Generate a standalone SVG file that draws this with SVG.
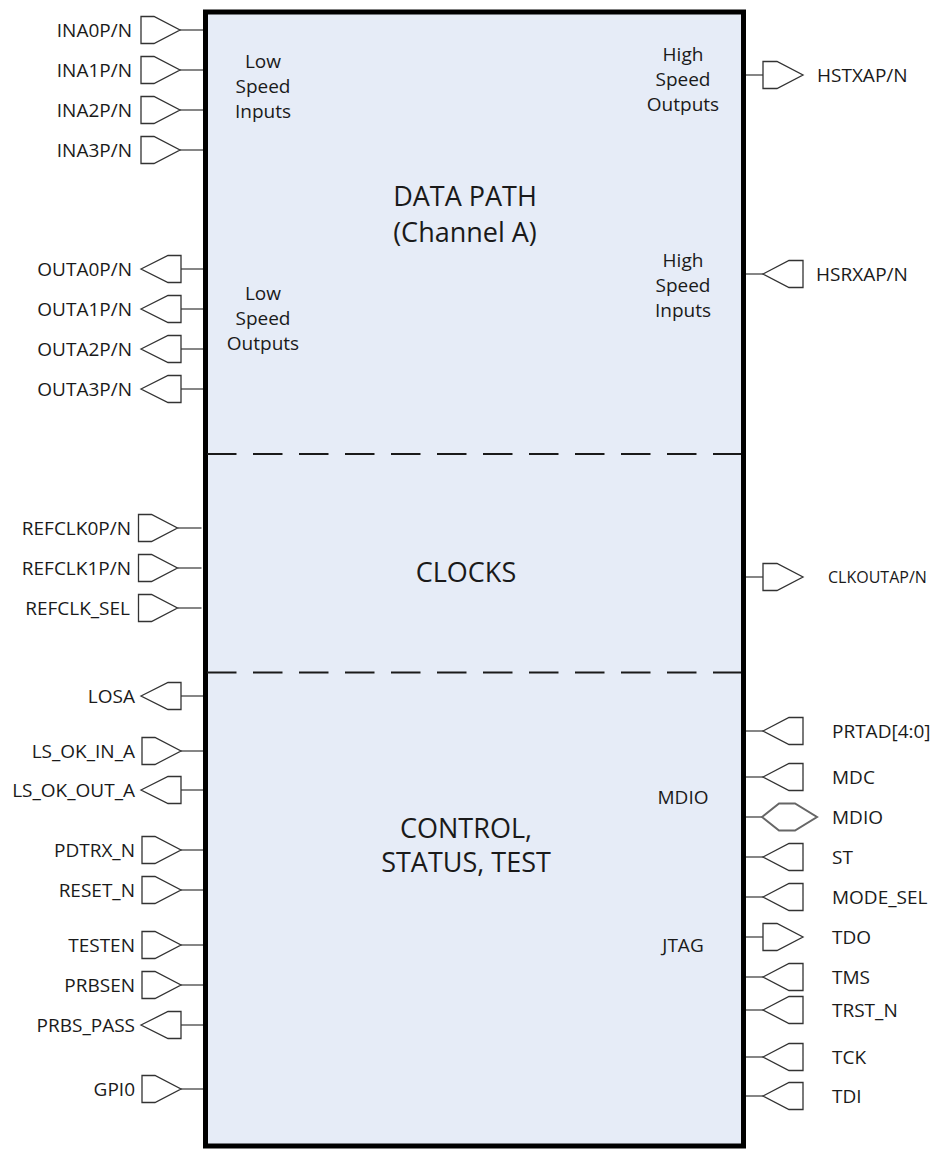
<svg xmlns="http://www.w3.org/2000/svg" xmlns:xlink="http://www.w3.org/1999/xlink" width="933" height="1150" viewBox="0 0 933 1150">
<style>
.pin{fill:#ffffff;stroke:#333333;stroke-width:1.3;stroke-linejoin:miter}
.bid{fill:#ffffff;stroke:#666666;stroke-width:2}
.wire{stroke:#444444;stroke-width:1.3}
.lbl{font-family:"Open Sans","DejaVu Sans",sans-serif;font-size:19px;fill:#1a1a1a}
.l{text-anchor:end}
.mid{text-anchor:middle}
.big{font-family:"Open Sans","DejaVu Sans",sans-serif;font-size:27px;fill:#1a1a1a;text-anchor:middle}
.dash{stroke:#1a1a1a;stroke-width:2;stroke-dasharray:29.5 16.5;fill:none}
</style>
<defs>
<g id="inL"><line class="wire" x1="180" y1="0" x2="204" y2="0"/><polygon class="pin" points="141,-13.5 154,-13.5 180,0 154,13.5 141,13.5"/></g>
<g id="outL"><line class="wire" x1="181" y1="0" x2="204" y2="0"/><polygon class="pin" points="141,0 168,-13.5 181,-13.5 181,13.5 168,13.5"/></g>
<g id="inR"><line class="wire" x1="744" y1="0" x2="763" y2="0"/><polygon class="pin" points="763,0 789,-13.5 803,-13.5 803,13.5 789,13.5"/></g>
<g id="outR"><line class="wire" x1="744" y1="0" x2="763" y2="0"/><polygon class="pin" points="763,-13.5 777,-13.5 803,0 777,13.5 763,13.5"/></g>
<g id="bidR"><line class="wire" x1="744" y1="0" x2="762" y2="0"/><polygon class="bid" points="762,0 779,-13.5 795,-13.5 817,0 795,13.5 779,13.5"/></g>
</defs>

<g id="connectors">
<use xlink:href="#inL" href="#inL" y="30"/>
<use xlink:href="#inL" href="#inL" y="70"/>
<use xlink:href="#inL" href="#inL" y="110"/>
<use xlink:href="#inL" href="#inL" y="150"/>
<use xlink:href="#outL" href="#outL" y="269"/>
<use xlink:href="#outL" href="#outL" y="309"/>
<use xlink:href="#outL" href="#outL" y="349"/>
<use xlink:href="#outL" href="#outL" y="389"/>
<use xlink:href="#inL" href="#inL" x="-2.5" y="528"/>
<use xlink:href="#inL" href="#inL" x="-2.5" y="568"/>
<use xlink:href="#inL" href="#inL" x="-2.5" y="608"/>
<use xlink:href="#outL" href="#outL" y="696"/>
<use xlink:href="#inL" href="#inL" x="1" y="751"/>
<use xlink:href="#outL" href="#outL" y="790"/>
<use xlink:href="#inL" href="#inL" x="1" y="850"/>
<use xlink:href="#inL" href="#inL" x="1" y="890"/>
<use xlink:href="#inL" href="#inL" x="1" y="945"/>
<use xlink:href="#inL" href="#inL" x="1" y="985"/>
<use xlink:href="#outL" href="#outL" y="1025"/>
<use xlink:href="#inL" href="#inL" x="1" y="1089"/>
<use xlink:href="#outR" href="#outR" y="75"/>
<use xlink:href="#inR" href="#inR" y="274"/>
<use xlink:href="#outR" href="#outR" y="577"/>
<use xlink:href="#inR" href="#inR" y="731"/>
<use xlink:href="#inR" href="#inR" y="777"/>
<use xlink:href="#bidR" href="#bidR" y="817"/>
<use xlink:href="#inR" href="#inR" y="857"/>
<use xlink:href="#inR" href="#inR" y="897"/>
<use xlink:href="#outR" href="#outR" y="937"/>
<use xlink:href="#inR" href="#inR" y="977"/>
<use xlink:href="#inR" href="#inR" y="1010"/>
<use xlink:href="#inR" href="#inR" y="1057"/>
<use xlink:href="#inR" href="#inR" y="1096"/>
</g>

<g id="chip">
<rect x="205.5" y="12" width="538" height="1134" fill="#E6ECF7" stroke="#000000" stroke-width="5"/>
<line class="dash" x1="207" y1="454" x2="741" y2="454"/>
<line class="dash" x1="207" y1="672.5" x2="741" y2="672.5"/>
</g>

<g id="datapath">
<text class="big" x="465" y="206">DATA PATH</text>
<text class="big" x="465" y="242">(Channel A)</text>
<text class="lbl mid" x="263" y="68">Low</text>
<text class="lbl mid" x="263" y="93">Speed</text>
<text class="lbl mid" x="263" y="118">Inputs</text>
<text class="lbl mid" x="263" y="300">Low</text>
<text class="lbl mid" x="263" y="325">Speed</text>
<text class="lbl mid" x="263" y="350">Outputs</text>
<text class="lbl mid" x="683" y="61">High</text>
<text class="lbl mid" x="683" y="86">Speed</text>
<text class="lbl mid" x="683" y="111">Outputs</text>
<text class="lbl mid" x="683" y="267">High</text>
<text class="lbl mid" x="683" y="292">Speed</text>
<text class="lbl mid" x="683" y="317">Inputs</text>
</g>
<g id="clocks">
<text class="big" x="466" y="582">CLOCKS</text>
</g>
<g id="control">
<text class="big" x="466" y="838">CONTROL,</text>
<text class="big" x="466" y="872">STATUS, TEST</text>
<text class="lbl mid" x="683" y="804">MDIO</text>
<text class="lbl mid" x="683" y="952">JTAG</text>
</g>

<g id="pin-labels-left">
<text class="lbl l" x="132" y="37">INA0P/N</text>
<text class="lbl l" x="132" y="77">INA1P/N</text>
<text class="lbl l" x="132" y="117">INA2P/N</text>
<text class="lbl l" x="132" y="157">INA3P/N</text>
<text class="lbl l" x="132" y="276">OUTA0P/N</text>
<text class="lbl l" x="132" y="316">OUTA1P/N</text>
<text class="lbl l" x="132" y="356">OUTA2P/N</text>
<text class="lbl l" x="132" y="396">OUTA3P/N</text>
<text class="lbl l" x="131" y="535">REFCLK0P/N</text>
<text class="lbl l" x="131" y="575">REFCLK1P/N</text>
<text class="lbl l" x="130" y="615">REFCLK_SEL</text>
<text class="lbl l" x="135" y="703">LOSA</text>
<text class="lbl l" x="135" y="758">LS_OK_IN_A</text>
<text class="lbl l" x="135" y="797">LS_OK_OUT_A</text>
<text class="lbl l" x="135" y="857">PDTRX_N</text>
<text class="lbl l" x="135" y="897">RESET_N</text>
<text class="lbl l" x="135" y="952">TESTEN</text>
<text class="lbl l" x="135" y="992">PRBSEN</text>
<text class="lbl l" x="135" y="1032">PRBS_PASS</text>
<text class="lbl l" x="135" y="1096">GPI0</text>
</g>
<g id="pin-labels-right">
<text class="lbl" x="817" y="82">HSTXAP/N</text>
<text class="lbl" x="816" y="281">HSRXAP/N</text>
<text class="lbl" x="828" y="583" style="font-size:16px">CLKOUTAP/N</text>
<text class="lbl" x="832" y="738">PRTAD[4:0]</text>
<text class="lbl" x="832" y="784">MDC</text>
<text class="lbl" x="832" y="824">MDIO</text>
<text class="lbl" x="832" y="864">ST</text>
<text class="lbl" x="832" y="904">MODE_SEL</text>
<text class="lbl" x="832" y="944">TDO</text>
<text class="lbl" x="832" y="984">TMS</text>
<text class="lbl" x="832" y="1017">TRST_N</text>
<text class="lbl" x="832" y="1064">TCK</text>
<text class="lbl" x="832" y="1103">TDI</text>
</g>
</svg>
